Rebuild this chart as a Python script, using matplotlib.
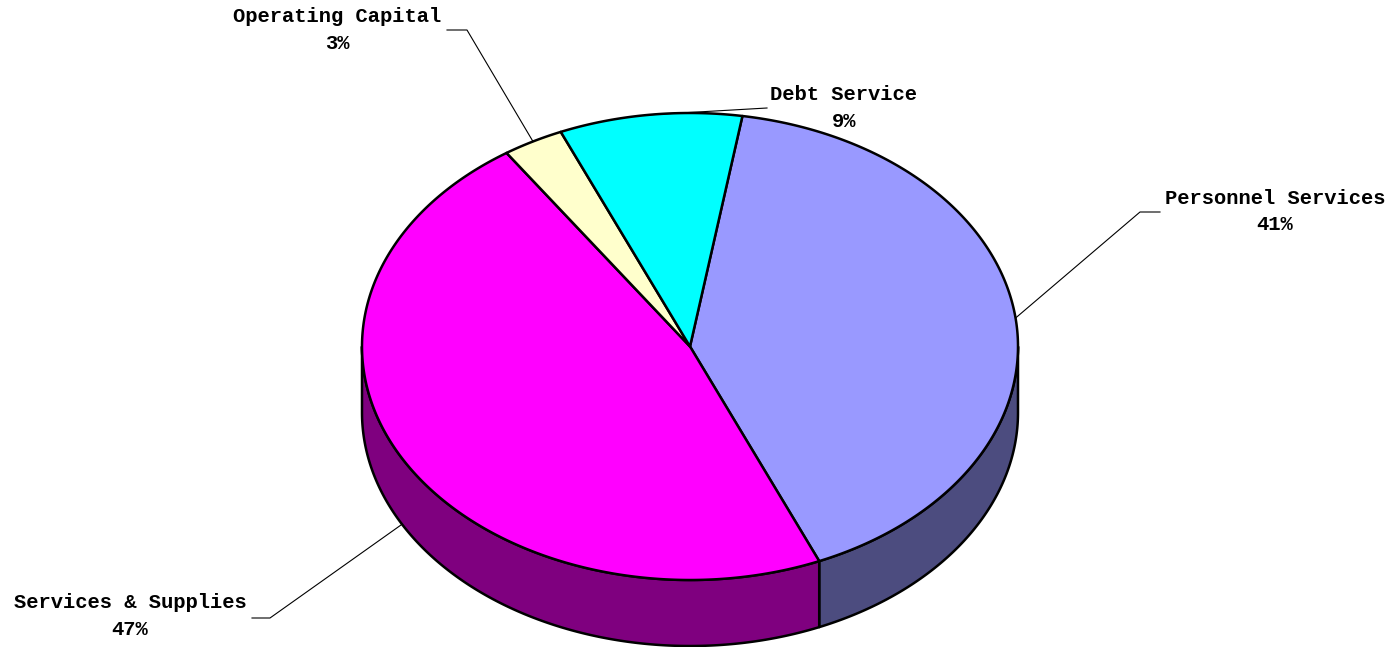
import numpy as np
import matplotlib
matplotlib.use("Agg")
import matplotlib.pyplot as plt
from matplotlib.patches import Polygon

# Budget shares (percent)
categories = ["Personnel Services", "Services & Supplies", "Operating Capital", "Debt Service"]
values = [41, 47, 3, 9]
top_colors = ["#9999FF", "#FF00FF", "#FFFFCC", "#00FFFF"]
side_colors = ["#4C4C7F", "#7F007F", "#7F7F66", "#007F7F"]

# label text centres and leader-line elbows (canvas pixels)
label_pos = [(1275, 198), (130, 603), (337, 17), (844, 95)]
leader_start = [[(1160, 212), (1140, 212)],
                [(252, 618), (270, 618)],
                [(447, 30), (467, 30)],
                [(767, 108)]]

W, H, DPI = 1395, 647, 100
cx, cy, rx, ry, depth = 690, 346.5, 328, 233.5, 66
start_angle = 80.8

fig = plt.figure(figsize=(W / DPI, H / DPI), dpi=DPI)
ax = fig.add_axes([0, 0, 1, 1])
ax.set_xlim(0, W)
ax.set_ylim(H, 0)
ax.axis("off")


def pt(a, dz=0.0):
    r = np.radians(a)
    return cx + rx * np.cos(r), cy - ry * np.sin(r) + dz


def arc(a1, a2, dz=0.0, n=None):
    if n is None:
        n = max(int(abs(a2 - a1) * 2) + 2, 3)
    t = np.linspace(a1, a2, n)
    r = np.radians(t)
    return np.column_stack([cx + rx * np.cos(r), cy - ry * np.sin(r) + dz])


total = float(sum(values))
spans = [v / total * 360.0 for v in values]
bounds = []
a = start_angle
for s in spans:
    bounds.append((a, a - s))
    a -= s

# side walls (front half only)
for (a1, a2), col in zip(bounds, side_colors):
    for k in (-1, 0, 1):
        lo, hi = -180 + 360 * k, 0 + 360 * k
        s_hi, s_lo = min(a1, hi), max(a2, lo)
        if s_hi > s_lo:
            topedge = arc(s_hi, s_lo)
            botedge = arc(s_lo, s_hi, dz=depth)
            poly = np.vstack([topedge, botedge])
            ax.add_patch(Polygon(poly, closed=True, facecolor=col,
                                 edgecolor="black", lw=1.8, joinstyle="round", zorder=1))

# top faces
for (a1, a2), col in zip(bounds, top_colors):
    poly = np.vstack([[cx, cy], arc(a1, a2)])
    ax.add_patch(Polygon(poly, closed=True, facecolor=col,
                         edgecolor="black", lw=1.8, joinstyle="round", zorder=2))

# labels and leader lines
for (a1, a2), name, v, (lx, ly), lead in zip(bounds, categories, values, label_pos, leader_start):
    mid = (a1 + a2) / 2.0
    ax_, ay_ = pt(mid)
    if np.sin(np.radians(mid)) < 0:
        ay_ += depth
    xs = [p[0] for p in lead] + [ax_]
    ys = [p[1] for p in lead] + [ay_]
    ax.plot(xs, ys, color="black", lw=0.8, zorder=3)
    ax.text(lx, ly, name, ha="center", va="center", fontsize=14.8,
            fontweight="bold", family="Liberation Mono", zorder=4)
    ax.text(lx, ly + 26.5, f"{v}%", ha="center", va="center", fontsize=14.8,
            fontweight="bold", family="Liberation Mono", zorder=4)

fig.savefig("out.png", dpi=DPI, facecolor="white")
